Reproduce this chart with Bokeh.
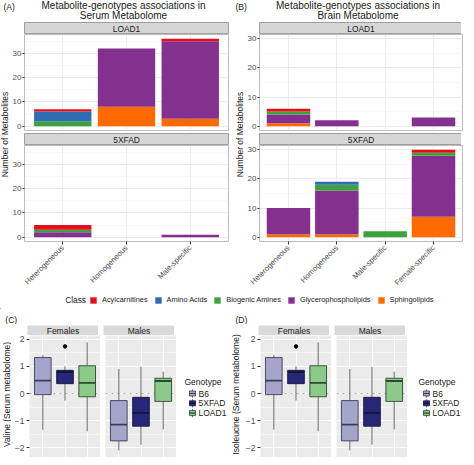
import math
from bokeh.plotting import figure
from bokeh.layouts import row, column
from bokeh.models import (Range1d, FixedTicker, LinearAxis, Legend, LegendItem,
                          ColumnDataSource, Span, Label)
from bokeh.core.properties import value
from bokeh.embed import file_html
from bokeh.resources import INLINE

# ---------------------------------------------------------------- data
class_names = ["Acylcarnitines", "Amino Acids", "Biogenic Amines",
               "Glycerophospholipids", "Sphingolipids"]
serum_groups = ["Heterogeneous", "Homogeneous", "Male-specific"]
brain_groups = ["Heterogeneous", "Homogeneous", "Male-specific", "Female-specific"]
facet_names = ["LOAD1", "5XFAD"]
count_ticks = [0, 10, 20, 30]
count_minor_ticks = [5, 15, 25, 35]

# Serum metabolome, LOAD1 (one value per serum group)
serum_load1_acylcarnitines = [1, 0, 1]
serum_load1_amino_acids = [4, 0, 0]
serum_load1_biogenic_amines = [2, 0, 0]
serum_load1_glycerophospholipids = [0, 24, 32]
serum_load1_sphingolipids = [0, 8, 3]
# Serum metabolome, 5XFAD
serum_5xfad_acylcarnitines = [2, 0, 0]
serum_5xfad_amino_acids = [0, 0, 0]
serum_5xfad_biogenic_amines = [1, 0, 0]
serum_5xfad_glycerophospholipids = [2, 0, 1]
serum_5xfad_sphingolipids = [0, 0, 0]
# Brain metabolome, LOAD1 (one value per brain group)
brain_load1_acylcarnitines = [1, 0, 0, 0]
brain_load1_amino_acids = [0, 0, 0, 0]
brain_load1_biogenic_amines = [1, 0, 0, 0]
brain_load1_glycerophospholipids = [3, 2, 0, 3]
brain_load1_sphingolipids = [1, 0, 0, 0]
# Brain metabolome, 5XFAD
brain_5xfad_acylcarnitines = [0, 0, 0, 1]
brain_5xfad_amino_acids = [0, 1, 0, 0]
brain_5xfad_biogenic_amines = [0, 2, 2, 1]
brain_5xfad_glycerophospholipids = [9, 15, 0, 21]
brain_5xfad_sphingolipids = [1, 1, 0, 7]

genotypes = ["B6", "5XFAD", "LOAD1"]
sexes = ["Females", "Males"]
z_ticks = [-2, -1, 0, 1, 2]
z_minor_ticks = [-1.5, -0.5, 0.5, 1.5]

# Valine (serum), box statistics per genotype
valine_f_low = [-1.33, -0.26, -1.39]
valine_f_q1 = [-0.04, 0.36, -0.12]
valine_f_median = [0.47, 0.79, 0.39]
valine_f_q3 = [1.32, 0.85, 1.02]
valine_f_high = [1.41, 1.00, 1.88]
valine_f_outlier_genotype = ["5XFAD"]
valine_f_outlier_value = [1.73]
valine_m_low = [-2.09, -1.88, -1.32]
valine_m_q1 = [-1.74, -1.20, -0.29]
valine_m_median = [-1.14, -0.71, 0.46]
valine_m_q3 = [-0.26, -0.14, 0.56]
valine_m_high = [0.90, 0.98, 0.80]
valine_m_outlier_genotype = []
valine_m_outlier_value = []

# Isoleucine (serum), box statistics per genotype
isoleucine_f_low = [-1.33, -0.26, -1.39]
isoleucine_f_q1 = [-0.04, 0.36, -0.12]
isoleucine_f_median = [0.47, 0.79, 0.39]
isoleucine_f_q3 = [1.32, 0.85, 1.02]
isoleucine_f_high = [1.41, 1.00, 1.88]
isoleucine_f_outlier_genotype = ["5XFAD"]
isoleucine_f_outlier_value = [1.73]
isoleucine_m_low = [-2.09, -1.88, -1.32]
isoleucine_m_q1 = [-1.74, -1.20, -0.29]
isoleucine_m_median = [-1.14, -0.71, 0.46]
isoleucine_m_q3 = [-0.26, -0.14, 0.56]
isoleucine_m_high = [0.90, 0.98, 0.80]
isoleucine_m_outlier_genotype = []
isoleucine_m_outlier_value = []

# ---------------------------------------------------------------- style
FONT = "Liberation Sans"
TXT = "#1A1A1A"
TICKTXT = "#4D4D4D"
TICK = "#333333"
CLASS_COLORS = {"Acylcarnitines": "#E3101C", "Amino Acids": "#2F6CB3",
                "Biogenic Amines": "#3DA23D", "Glycerophospholipids": "#84308F",
                "Sphingolipids": "#FF6A00"}
CLASS_KEYS = {"Acylcarnitines": "acyl", "Amino Acids": "amino",
              "Biogenic Amines": "biogenic", "Glycerophospholipids": "glycero",
              "Sphingolipids": "sphingo"}
STACK_ORDER = ["Sphingolipids", "Glycerophospholipids", "Biogenic Amines",
               "Amino Acids", "Acylcarnitines"]
GENO_FILL = ["#A5A5CB", "#272777", "#8CC98A"]
GENO_LINE = ["#3C3C55", "#15153F", "#2E4A2E"]


def base_fig(fw, fh, xr, yr, left=0, right=0, top=0, bottom=0):
    p = figure(frame_width=fw, frame_height=fh, x_range=xr, y_range=yr,
               x_axis_location=None, y_axis_location=None,
               toolbar_location=None, output_backend="svg", min_border=0,
               min_border_left=left, min_border_right=right,
               min_border_top=top, min_border_bottom=bottom)
    p.border_fill_color = "white"
    return p


def canvas(w, h):
    # pixel canvas; put_text takes y measured from the top
    p = base_fig(w, h, Range1d(0, w), Range1d(0, h))
    p.grid.visible = False
    p.outline_line_color = None
    return p


def put_text(p, x, y_from_top, txt, size, align="left", angle=0.0, color=TXT):
    p.text(x=[x], y=[p.y_range.end - y_from_top], text=[txt], angle=angle,
           text_align=align, text_baseline="middle", text_font=value(FONT),
           text_font_size=size, text_color=color)


def put_vlabel(p, x, y_from_top, txt, size):
    p.add_layout(Label(x=x, y=p.y_range.end - y_from_top, text=txt,
                       angle=math.pi / 2, text_align="center",
                       text_baseline="middle", text_font=FONT,
                       text_font_size=size, text_color=TXT))


def strip_fig(txt, fw, h, left, right, fill, border, size):
    p = base_fig(fw, h, Range1d(0, 1), Range1d(0, 1), left, right)
    p.grid.visible = False
    p.background_fill_color = fill
    p.outline_line_color = border
    p.text(x=[0.5], y=[0.5], text=[txt], text_align="center",
           text_baseline="middle", text_font=value(FONT),
           text_font_size=size, text_color=TXT)
    return p


def bar_facet(groups, counts, y_lo, y_hi, fw, fh, left, right, bottom, with_x):
    xs = list(range(1, len(groups) + 1))
    p = base_fig(fw, fh, Range1d(0.4, len(groups) + 0.6), Range1d(y_lo, y_hi),
                 left, right, 0, bottom)
    p.background_fill_color = "white"
    p.outline_line_color = "#BDBDBD"
    p.xgrid.ticker = FixedTicker(ticks=xs)
    p.ygrid.ticker = FixedTicker(ticks=count_ticks, minor_ticks=count_minor_ticks)
    p.grid.grid_line_color = "#EBEBEB"
    p.grid.grid_line_width = 1
    p.ygrid.minor_grid_line_color = "#F3F3F3"
    p.ygrid.minor_grid_line_width = 0.6
    data = {"x": xs}
    for cls in STACK_ORDER:
        data[CLASS_KEYS[cls]] = counts[cls]
    src = ColumnDataSource(data)
    p.vbar_stack([CLASS_KEYS[c] for c in STACK_ORDER], x="x", width=0.9,
                 fill_color=[CLASS_COLORS[c] for c in STACK_ORDER],
                 line_color=None, source=src)
    yax = LinearAxis(ticker=FixedTicker(ticks=count_ticks), axis_line_color=None,
                     major_tick_out=2, major_tick_in=0, minor_tick_line_color=None,
                     major_tick_line_color=TICK, major_label_standoff=1,
                     major_label_text_font=FONT, major_label_text_font_size="8px",
                     major_label_text_color=TICKTXT)
    p.add_layout(yax, "left")
    if with_x:
        xax = LinearAxis(ticker=FixedTicker(ticks=xs),
                         major_label_overrides={x: g for x, g in zip(xs, groups)},
                         major_label_orientation=math.pi / 4, axis_line_color=None,
                         major_tick_out=3, major_tick_in=0, minor_tick_line_color=None,
                         major_tick_line_color=TICK, major_label_standoff=2,
                         major_label_text_font=FONT, major_label_text_font_size="7.6px",
                         major_label_text_color=TICKTXT)
        p.add_layout(xax, "below")
    return p


def bar_panel(tag, line1, line2, groups, facets, y_lo, y_hi, ylab_w, fw, left, right, ylab_x):
    total_w = ylab_w + left + fw + right
    title = canvas(total_w, 22)
    put_text(title, 3, 6.5, tag, "8.6px")
    cx = ylab_w + left + fw / 2
    put_text(title, cx, 5.0, line1, "10px", align="center")
    put_text(title, cx, 15.2, line2, "10px", align="center")
    ylab = canvas(ylab_w, 263)
    put_vlabel(ylab, ylab_x, 112, "Number of Metabolites", "8.5px")
    parts = []
    for i, (name, counts) in enumerate(zip(facet_names, facets)):
        parts.append(strip_fig(name, fw, 12, left, right, "#D6D6D6", "#9E9E9E", "8.4px"))
        last = i == len(facets) - 1
        parts.append(bar_facet(groups, counts, y_lo, y_hi, fw, 96, left, right,
                               44 if last else 3, last))
    return column(title, row(ylab, column(*parts)))


def box_facet(low, q1, med, q3, high, out_g, out_v, left, show_y):
    xs = list(range(1, len(genotypes) + 1))
    p = base_fig(71, 122, Range1d(0.4, 3.6), Range1d(-2.35, 2.13), left, 0)
    p.background_fill_color = "#EBEBEB"
    p.outline_line_color = None
    p.xgrid.ticker = FixedTicker(ticks=xs)
    p.ygrid.ticker = FixedTicker(ticks=z_ticks, minor_ticks=z_minor_ticks)
    p.grid.grid_line_color = "white"
    p.grid.grid_line_width = 1
    p.ygrid.minor_grid_line_color = "white"
    p.ygrid.minor_grid_line_width = 0.5
    p.add_layout(Span(location=0, dimension="width", line_color="#A9A98A",
                      line_dash="dotted", line_width=1, level="underlay"))
    half = 0.75 / 2
    src = ColumnDataSource(dict(x=xs, low=low, q1=q1, med=med, q3=q3, high=high,
                                x0=[x - half for x in xs], x1=[x + half for x in xs],
                                fill=GENO_FILL, line=GENO_LINE))
    p.segment(x0="x", y0="q3", x1="x", y1="high", line_color="#555555",
              line_width=0.9, source=src)
    p.segment(x0="x", y0="q1", x1="x", y1="low", line_color="#555555",
              line_width=0.9, source=src)
    p.vbar(x="x", bottom="q1", top="q3", width=0.75, fill_color="fill",
           line_color="line", line_width=0.9, source=src)
    p.segment(x0="x0", y0="med", x1="x1", y1="med", line_color="line",
              line_width=1.8, source=src)
    if out_g:
        p.scatter(x=[genotypes.index(g) + 1 for g in out_g], y=out_v, size=3.5,
                  color="black")
    if show_y:
        yax = LinearAxis(ticker=FixedTicker(ticks=z_ticks), axis_line_color=None,
                         major_tick_out=3, major_tick_in=0, minor_tick_line_color=None,
                         major_tick_line_color=TICK, major_label_standoff=2,
                         major_label_text_font=FONT, major_label_text_font_size="8.5px",
                         major_label_text_color=TICKTXT)
        p.add_layout(yax, "left")
    return p


def box_panel(tag, tag_x, ylabel, ylab_x, fem, mal, leg_dx):
    title = canvas(229, 15)
    put_text(title, tag_x, 10, tag, "8.6px")
    ylab = canvas(11, 133)
    put_vlabel(ylab, ylab_x, 70, ylabel, "8.5px")
    s_f = strip_fig(sexes[0], 71, 11, 16, 0, "#D9D9D9", None, "8.5px")
    s_m = strip_fig(sexes[1], 71, 11, 5, 0, "#D9D9D9", None, "8.5px")
    f_f = box_facet(*fem, left=16, show_y=True)
    f_m = box_facet(*mal, left=5, show_y=False)
    leg = canvas(55, 133)
    put_text(leg, 8 + leg_dx, 57, "Genotype", "8.5px")
    ys = [69 + 9.8 * i for i in range(len(genotypes))]
    cx = 16 + leg_dx
    H = leg.y_range.end
    ksrc = ColumnDataSource(dict(x=[cx] * len(genotypes), y=[H - y for y in ys],
                                 y0=[H - y - 4.2 for y in ys], y1=[H - y + 4.2 for y in ys],
                                 x0=[cx - 3 for _ in ys], x1=[cx + 3 for _ in ys],
                                 fill=GENO_FILL, line=GENO_LINE))
    leg.segment(x0="x", y0="y0", x1="x", y1="y1", line_color="#555555",
                line_width=0.8, source=ksrc)
    leg.rect(x="x", y="y", width=6, height=5, fill_color="fill", line_color="line",
             line_width=0.8, source=ksrc)
    leg.segment(x0="x0", y0="y", x1="x1", y1="y", line_color="line",
                line_width=1.2, source=ksrc)
    for g, y in zip(genotypes, ys):
        put_text(leg, 22 + leg_dx, y, g, "8.5px")
    body = row(ylab, column(row(s_f, s_m), row(f_f, f_m)), leg)
    return column(title, body)


# ---------------------------------------------------------------- assemble
serumA = [dict(zip(class_names, [serum_load1_acylcarnitines, serum_load1_amino_acids,
                                 serum_load1_biogenic_amines,
                                 serum_load1_glycerophospholipids,
                                 serum_load1_sphingolipids])),
          dict(zip(class_names, [serum_5xfad_acylcarnitines, serum_5xfad_amino_acids,
                                 serum_5xfad_biogenic_amines,
                                 serum_5xfad_glycerophospholipids,
                                 serum_5xfad_sphingolipids]))]
brainB = [dict(zip(class_names, [brain_load1_acylcarnitines, brain_load1_amino_acids,
                                 brain_load1_biogenic_amines,
                                 brain_load1_glycerophospholipids,
                                 brain_load1_sphingolipids])),
          dict(zip(class_names, [brain_5xfad_acylcarnitines, brain_5xfad_amino_acids,
                                 brain_5xfad_biogenic_amines,
                                 brain_5xfad_glycerophospholipids,
                                 brain_5xfad_sphingolipids]))]

panelA = bar_panel("(A)", "Metabolite-genotypes associations in", "Serum Metabolome",
                   serum_groups, serumA, -1.8, 37.8, 9, 204, 12, 4, 4.5)
panelB = bar_panel("(B)", "Metabolite-genotypes associations in", "Brain Metabolome",
                   brain_groups, brainB, -1.5, 31.5, 12, 203, 12, 2, 7.5)

# class legend
legfig = canvas(458, 16)
put_text(legfig, 64.7, 6.7, "Class", "8.3px")
items = []
for name in class_names:
    # a bar placed off the canvas, used only to give the legend its colour key
    r = legfig.vbar(x=[-1000], top=[1], bottom=[0], width=1,
                    fill_color=CLASS_COLORS[name], line_color=None)
    items.append(LegendItem(label=value(name), renderers=[r]))
legend = Legend(items=items, orientation="horizontal", location=(89, 5),
                glyph_width=8, glyph_height=8, label_standoff=5, spacing=6,
                padding=0, margin=0, label_height=8, label_width=0,
                label_text_font=FONT, label_text_font_size="7.4px",
                label_text_color=TXT, border_line_color=None,
                background_fill_alpha=0)
legfig.add_layout(legend)

valine_f = (valine_f_low, valine_f_q1, valine_f_median, valine_f_q3, valine_f_high,
            valine_f_outlier_genotype, valine_f_outlier_value)
valine_m = (valine_m_low, valine_m_q1, valine_m_median, valine_m_q3, valine_m_high,
            valine_m_outlier_genotype, valine_m_outlier_value)
iso_f = (isoleucine_f_low, isoleucine_f_q1, isoleucine_f_median, isoleucine_f_q3,
         isoleucine_f_high, isoleucine_f_outlier_genotype, isoleucine_f_outlier_value)
iso_m = (isoleucine_m_low, isoleucine_m_q1, isoleucine_m_median, isoleucine_m_q3,
         isoleucine_m_high, isoleucine_m_outlier_genotype, isoleucine_m_outlier_value)

panelC = box_panel("(C)", 4.8, "Valine (Serum metabolome)", 6.5, valine_f, valine_m, 0)
panelD = box_panel("(D)", 3.9, "Isoleucine (Serum metabolome)", 4.5, iso_f, iso_m, 3)

layout = column(row(panelA, panelB), legfig, row(panelC, panelD))

open("out.html", "w").write(file_html(layout, INLINE))
